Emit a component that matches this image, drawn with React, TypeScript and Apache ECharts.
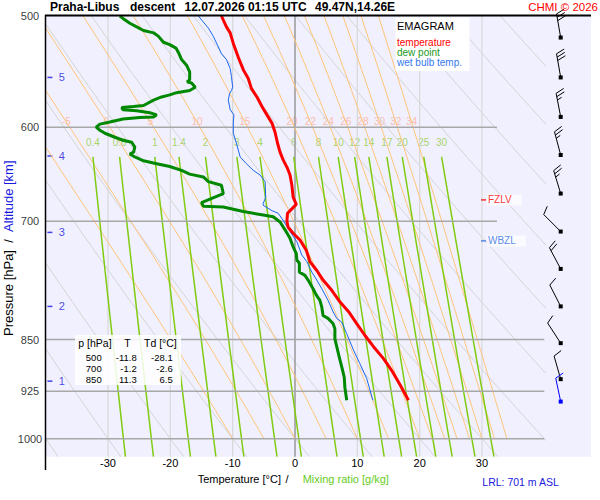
import React, { useEffect, useRef } from "react";
import * as echarts from "echarts";

const FONT = "'Liberation Sans', Arial, Helvetica, sans-serif";

// ---- profiles: [temperature °C, pressure hPa] ----
const temperature: number[][] = [
  [-11.8, 500], [-11.0, 509], [-10.4, 514], [-9.9, 523], [-9.1, 535], [-8.3, 546], [-7.5, 554],
  [-7.0, 563], [-6.1, 571], [-5.3, 580], [-4.5, 588], [-3.7, 596], [-3.2, 605], [-2.8, 616],
  [-2.4, 625], [-1.9, 633], [-1.2, 642], [-0.8, 649], [-0.5, 660], [-0.3, 673], [0.2, 681],
  [-0.5, 686], [-1.2, 691], [-1.3, 700], [-1.1, 707], [-0.3, 714], [0.8, 722], [1.8, 734],
  [2.4, 748], [3.5, 759], [4.5, 771], [5.9, 784], [7.2, 799], [8.6, 812], [9.9, 828],
  [11.2, 844], [12.6, 860], [14.2, 877], [15.5, 894], [16.9, 916], [18.2, 939],
];

const dewPoint: number[][] = [
  [-28.1, 500], [-27.6, 502], [-26.5, 506], [-25.4, 509], [-24.3, 512], [-22.7, 514], [-21.9, 517],
  [-21.1, 522], [-20.1, 524], [-19.1, 527], [-18.6, 532], [-18.2, 537], [-17.4, 542], [-16.9, 548],
  [-16.9, 555], [-17.3, 557], [-16.6, 558], [-16.0, 562], [-16.9, 565], [-19.0, 567], [-20.1, 569],
  [-21.4, 571], [-22.7, 574], [-24.3, 579], [-25.9, 580], [-27.8, 581], [-27.6, 583], [-25.4, 584],
  [-23.3, 586], [-22.2, 588], [-22.7, 590], [-24.9, 590.5], [-27.6, 592], [-29.7, 595], [-31.3, 597],
  [-31.9, 600], [-31.3, 603], [-30.5, 606], [-29.7, 608], [-28.9, 610], [-27.6, 613], [-26.2, 615],
  [-25.7, 620], [-25.9, 625], [-26.5, 627], [-25.7, 630], [-24.3, 634], [-22.2, 637], [-20.1, 640],
  [-18.2, 644], [-16.9, 648], [-14.7, 651], [-13.9, 656], [-11.8, 660], [-11.5, 669], [-15.0, 679],
  [-14.7, 683], [-11.5, 684], [-8.3, 689], [-5.1, 693], [-3.5, 695], [-2.4, 701], [-1.6, 710],
  [-0.8, 720], [-0.3, 730], [0.2, 738], [0.3, 746], [0.7, 750], [0.7, 761], [1.6, 765], [2.1, 771],
  [2.9, 782], [3.4, 790], [4.0, 797], [4.3, 806], [4.5, 817], [5.3, 821], [6.1, 828], [6.4, 835],
  [6.4, 849], [6.7, 860], [7.1, 875], [7.5, 889], [7.9, 904], [8.0, 919], [8.3, 939],
];

const wetBulb: number[][] = [
  [-15.5, 500], [-14.7, 505], [-13.9, 510], [-13.1, 517], [-12.3, 526], [-11.8, 532], [-11.0, 537],
  [-10.4, 545], [-10.2, 552], [-10.0, 562], [-10.2, 565], [-10.5, 568], [-10.7, 574], [-10.4, 583],
  [-9.8, 588], [-9.9, 595], [-9.9, 606], [-9.4, 616], [-8.8, 630], [-7.8, 637], [-6.7, 644],
  [-5.6, 649], [-4.8, 656], [-4.7, 673], [-5.1, 680], [-5.1, 682], [-3.7, 688], [-2.7, 691],
  [-1.9, 699], [-0.8, 712], [0.3, 724], [1.1, 740], [1.9, 748], [2.7, 761], [3.5, 771], [4.3, 782],
  [5.3, 797], [6.1, 812], [6.7, 821], [7.5, 826], [8.3, 842], [9.4, 865], [10.4, 884], [11.5, 906],
  [12.5, 939],
];

// ---- diagram reference lines ----
const pressureTicks = [500, 600, 700, 850, 925, 1000];
const isobars = [600, 700, 850, 925, 1000];
const isobarEndT = [32.4, 32.4, 40, 40, 40];
const isotherms = [-30, -20, -10, 0, 10, 20, 30];
const dryAdiabatsT1000 = [-40, -30, -20, -10, 0, 10, 20, 30, 40, 50, 60, 70, 80, 90, 100];
const moistAdiabatsThetaW = [-10, -5, 0, 5, 10, 15, 20, 22, 24, 26, 28, 30, 32, 34];
const moistLabels = [-5, 0, 5, 10, 15, 20, 22, 24, 26, 28, 30, 32, 34];
const mixingRatios = [0.4, 0.6, 1, 1.4, 2, 3, 4, 6, 8, 10, 12, 14, 17, 20, 25, 30];

// altitude ticks (km) and their pressure
const altitudeKm = [1, 2, 3, 4, 5];
const altitudeP = [910, 805, 713, 629, 553];

// levels
const levelNames = ["FZLV", "WBZL"];
const levelP = [676, 723];
const levelColors = ["#ff0000", "#3070e0"];

// winds
const windP = [518, 553, 590, 628, 669, 712, 757, 805, 855, 907, 941];
const windDir = [350, 350, 349, 345, 343, 315, 332, 333, 327, 344, 348];
const windKt = [30, 30, 25, 25, 25, 10, 20, 10, 10, 10, 10];
const windColors = ["#000", "#000", "#000", "#000", "#000", "#000", "#000", "#000", "#000", "#000", "#0000ff"];

// table
const tableP = ["500", "700", "850"];
const tableT = ["-11.8", "-1.2", "11.3"];
const tableTd = ["-28.1", "-2.6", "6.5"];

// ---- thermodynamics helpers ----
const Rd = 287.04, Cp = 1005.7, Lv = 2.501e6, EPS = 0.622;
const satVap = (tc: number) => 6.112 * Math.exp((17.67 * tc) / (tc + 243.5));
const moistRate = (tk: number, p: number) => {
  const e = satVap(tk - 273.15);
  const rs = (EPS * e) / (p - e);
  return (Rd * tk + Lv * rs) / (p * (Cp + (Lv * Lv * rs * EPS) / (Rd * tk * tk)));
};
const moistLine = (tw: number) => {
  const pts: number[][] = [[tw, 1000]];
  let T = tw + 273.15;
  let p = 1000;
  const h = -5;
  while (p > 500) {
    const k1 = moistRate(T, p);
    const k2 = moistRate(T + (h / 2) * k1, p + h / 2);
    const k3 = moistRate(T + (h / 2) * k2, p + h / 2);
    const k4 = moistRate(T + h * k3, p + h);
    T += (h / 6) * (k1 + 2 * k2 + 2 * k3 + k4);
    p += h;
    pts.push([T - 273.15, p]);
  }
  return pts;
};
const tdFromW = (w: number, p: number) => {
  const e = (w * p) / (622 + w);
  const l = Math.log(e / 6.112);
  return (243.5 * l) / (17.67 - l);
};
const dryLine = (t0: number) => {
  const pts: number[][] = [];
  for (let p = 500; p <= 1030; p += 10) pts.push([(t0 + 273.15) * Math.pow(p / 1000, 0.2857) - 273.15, p]);
  return pts;
};
const mixLine = (w: number) => {
  const pts: number[][] = [];
  for (let p = 630; p <= 1030; p += 20) pts.push([tdFromW(w, p), p]);
  return pts;
};

const thin = (color: string, width: number) => ({
  type: "line",
  showSymbol: false,
  symbol: "none",
  silent: true,
  emphasis: { disabled: true },
  lineStyle: { color, width },
});

function buildOption() {
  const series: any[] = [];

  dryAdiabatsT1000.forEach((t) => series.push({ ...thin("#d4d4d4", 1), data: dryLine(t) }));
  isotherms.forEach((t) =>
    series.push({ ...thin(t === 0 ? "#9a9a9a" : "#d8d8d8", t === 0 ? 1.5 : 1.2), data: [[t, 500], [t, 1030]] })
  );
  const moist = moistAdiabatsThetaW.map((tw) => moistLine(tw));
  moist.forEach((d) => series.push({ ...thin("#ffc477", 1), data: d }));
  mixingRatios.forEach((w) => series.push({ ...thin("#80cc10", 1.5), data: mixLine(w) }));
  isobars.forEach((p, i) => series.push({ ...thin("#a8a8a8", 1.5), data: [[-40, p], [isobarEndT[i], p]] }));

  // labels of moist adiabats
  series.push({
    type: "scatter",
    silent: true,
    symbolSize: 0,
    data: moistLabels.map((tw) => {
      const line = moist[moistAdiabatsThetaW.indexOf(tw)];
      const pt = line.find((q) => q[1] <= 595) as number[];
      return { value: [pt[0], 594], name: String(tw) };
    }),
    label: {
      show: true,
      position: "inside",
      formatter: (p: any) => p.name,
      color: "#ffae98",
      fontSize: 10,
      fontFamily: FONT,
    },
  });
  // labels of mixing ratio
  series.push({
    type: "scatter",
    silent: true,
    symbolSize: 0,
    data: mixingRatios.map((w) => ({ value: [tdFromW(w, 630), 615], name: String(w) })),
    label: {
      show: true,
      position: "inside",
      formatter: (p: any) => p.name,
      color: "#95cc3a",
      fontSize: 10,
      fontFamily: FONT,
    },
  });

  // profiles
  series.push({ ...thin("#1a66ee", 1), data: wetBulb, z: 4 });
  series.push({ ...thin("#008800", 3), data: dewPoint, z: 4 });
  series.push({ ...thin("#ff0000", 3), data: temperature, z: 4 });

  // pressure labels
  series.push({
    type: "scatter",
    silent: true,
    symbolSize: 0,
    data: pressureTicks.map((p) => ({ value: [-40, p], name: String(p) })),
    label: {
      show: true,
      position: "inside",
      offset: [-15.7, 0],
      formatter: (p: any) => p.name,
      color: "#000",
      fontSize: 11,
      fontFamily: FONT,
    },
  });

  // altitude ticks
  series.push({
    type: "scatter",
    silent: true,
    symbol: "rect",
    symbolSize: [5, 1.5],
    symbolOffset: [4.2, 0],
    itemStyle: { color: "#1818e0" },
    data: altitudeP.map((p, i) => ({ value: [-40, p], name: String(altitudeKm[i]) })),
    label: {
      show: true,
      position: "inside",
      offset: [12, 0],
      formatter: (p: any) => p.name,
      color: "#1818e0",
      fontSize: 11,
      fontFamily: FONT,
    },
  });

  // freezing / wet-bulb zero levels
  series.push({
    type: "scatter",
    silent: true,
    symbol: "rect",
    symbolSize: [5, 1.5],
    symbolOffset: [1.5, 0],
    z: 6,
    data: levelP.map((p, i) => ({
      value: [30, p],
      name: levelNames[i],
      itemStyle: { color: levelColors[i] },
      label: { color: levelColors[i] },
    })),
    label: {
      show: true,
      position: "right",
      distance: 1,
      formatter: (p: any) => p.name,
      fontSize: 10,
      fontFamily: FONT,
      backgroundColor: "rgba(255,255,255,0.85)",
      padding: [1, 10, 0, 1],
    },
  });

  // wind barbs
  series.push({
    type: "custom",
    clip: false,
    silent: true,
    z: 6,
    data: windP.map((p, i) => [40, p, windDir[i], windKt[i], i]),
    encode: { x: 0, y: 1 },
    renderItem: (params: any, api: any) => {
      const c = api.coord([api.value(0), api.value(1)]);
      const x = c[0] + 16.4;
      const y = c[1];
      const dir = (api.value(2) * Math.PI) / 180;
      const spd = api.value(3);
      const color = windColors[api.value(4)];
      const ux = Math.sin(dir), uy = -Math.cos(dir);
      const L = 24;
      const tx = x + ux * L, ty = y + uy * L;
      const px = -uy, py = ux;
      const a = (22 * Math.PI) / 180;
      const bx = px * Math.cos(a) + ux * Math.sin(a);
      const by = py * Math.cos(a) + uy * Math.sin(a);
      const children: any[] = [
        { type: "line", shape: { x1: x, y1: y, x2: tx, y2: ty }, style: { stroke: color, lineWidth: 1 } },
      ];
      const full = Math.floor(spd / 10);
      const half = spd % 10 >= 5;
      let pos = 0;
      for (let k = 0; k < full; k++) {
        const sx = tx - ux * pos, sy = ty - uy * pos;
        children.push({
          type: "line",
          shape: { x1: sx, y1: sy, x2: sx + bx * 9, y2: sy + by * 9 },
          style: { stroke: color, lineWidth: 1 },
        });
        pos += 3.4;
      }
      if (half) {
        if (full === 0) pos = 3.4;
        const sx = tx - ux * pos, sy = ty - uy * pos;
        children.push({
          type: "line",
          shape: { x1: sx, y1: sy, x2: sx + bx * 5, y2: sy + by * 5 },
          style: { stroke: color, lineWidth: 1 },
        });
      }
      children.push({ type: "rect", shape: { x: x - 2, y: y - 2, width: 4, height: 4 }, style: { fill: color } });
      return { type: "group", children };
    },
  });

  const txt = (x: number, y: number, text: string, opts: any = {}) => ({
    type: "text",
    x,
    y,
    z: opts.z ?? 50,
    silent: true,
    rotation: opts.rotation ?? 0,
    style: {
      text,
      fill: opts.fill ?? "#000",
      fontSize: opts.fontSize ?? 11,
      fontFamily: FONT,
      fontWeight: opts.fontWeight ?? "normal",
      align: opts.align ?? "left",
      textAlign: opts.align ?? "left",
      verticalAlign: "middle",
      textVerticalAlign: "middle",
      lineHeight: opts.lineHeight,
      rich: opts.rich,
    },
  });

  const rowY = (i: number) => 357.6 + i * 11;

  const graphic: any[] = [
    { type: "rect", z: -100, silent: true, shape: { x: 46, y: 16, width: 545, height: 440.7 }, style: { fill: "#f0f0fe" } },
    { type: "line", z: 40, silent: true, shape: { x1: 45.5, y1: 15, x2: 45.5, y2: 470 }, style: { stroke: "#000", lineWidth: 1.5 } },
    { type: "line", z: 40, silent: true, shape: { x1: 45, y1: 15.5, x2: 591, y2: 15.5 }, style: { stroke: "#000", lineWidth: 2 } },
    txt(50, 7, "Praha-Libus", { fontWeight: "bold", fontSize: 12 }),
    txt(130, 7, "descent", { fontWeight: "bold", fontSize: 12 }),
    txt(184.5, 7, "12.07.2026 01:15 UTC", { fontWeight: "bold", fontSize: 12 }),
    txt(315, 7, "49.47N,14.26E", { fontWeight: "bold", fontSize: 12 }),
    txt(598, 7, "CHMI © 2026", { fill: "#ff0000", fontSize: 11.5, align: "right" }),
    // legend box
    { type: "rect", z: 45, silent: true, shape: { x: 395.5, y: 17.5, width: 74, height: 53.5 }, style: { fill: "rgba(255,255,255,0.95)" } },
    txt(397, 26, "EMAGRAM", { fontSize: 11, lineHeight: 11 }),
    txt(397, 42.3, "temperature", { fill: "#ff0000", fontSize: 10, lineHeight: 9.5 }),
    txt(397, 52.2, "dew point", { fill: "#229922", fontSize: 10, lineHeight: 9.5 }),
    txt(397, 62.3, "wet bulb temp.", { fill: "#3377ee", fontSize: 10, lineHeight: 9.5 }),
    // table
    { type: "rect", z: 45, silent: true, shape: { x: 75, y: 335, width: 106, height: 50 }, style: { fill: "rgba(255,255,255,0.85)" } },
    txt(78.3, 343.3, "p [hPa]", { fontSize: 10.5, lineHeight: 10 }),
    txt(127.5, 343.3, "T", { fontSize: 10.5, align: "center", lineHeight: 10 }),
    txt(144, 343.3, "Td [°C]", { fontSize: 10.5, lineHeight: 10 }),
    ...tableP.flatMap((p, i) => [
      txt(101.7, rowY(i), p, { fontSize: 9.5, align: "right", lineHeight: 9.5 }),
      txt(136.7, rowY(i), tableT[i], { fontSize: 9.5, align: "right", lineHeight: 9.5 }),
      txt(172.7, rowY(i), tableTd[i], { fontSize: 9.5, align: "right", lineHeight: 9.5 }),
    ]),
    // axis titles
    txt(197.7, 479.3, "Temperature [°C]", { fontSize: 11 }),
    txt(285.5, 479.3, "/", { fontSize: 11 }),
    txt(302.7, 479.3, "Mixing ratio [g/kg]", { fill: "#66cc22", fontSize: 11 }),
    txt(482.3, 481.7, "LRL: 701 m ASL", { fill: "#2020dd", fontSize: 10.5 }),
    txt(8, 336, "{a|Pressure [hPa]  /  }{b|Altitude [km]}", {
      rotation: Math.PI / 2,
      fontSize: 13,
      rich: {
        a: { fill: "#000", color: "#000", fontSize: 13, fontFamily: FONT },
        b: { fill: "#1818e0", color: "#1818e0", fontSize: 13, fontFamily: FONT },
      },
    }),
  ];

  return {
    animation: false,
    backgroundColor: "#ffffff",
    textStyle: { fontFamily: FONT },
    grid: { left: 45.7, right: 55.7, top: 16, bottom: 43.3, containLabel: false },
    xAxis: {
      type: "value",
      min: -40,
      max: 40,
      interval: 10,
      axisLine: { show: false },
      axisTick: { show: false },
      splitLine: { show: false },
      axisLabel: {
        color: "#000",
        fontSize: 11,
        fontFamily: FONT,
        margin: 1,
        formatter: (v: number) => (Math.abs(v) === 40 ? "" : String(v)),
      },
    },
    yAxis: {
      type: "log",
      logBase: 10,
      min: 500,
      max: 1030,
      inverse: true,
      axisLine: { show: false },
      axisTick: { show: false },
      splitLine: { show: false },
      axisLabel: { show: false },
    },
    graphic,
    series,
  };
}

export default function App() {
  const ref = useRef<HTMLDivElement>(null);
  useEffect(() => {
    document.body.style.margin = "0";
    if (!ref.current) return;
    const chart = echarts.init(ref.current, undefined, { renderer: "svg" });
    chart.setOption(buildOption() as any);
    return () => chart.dispose();
  }, []);
  return <div ref={ref} style={{ width: 600, height: 500 }} />;
}
